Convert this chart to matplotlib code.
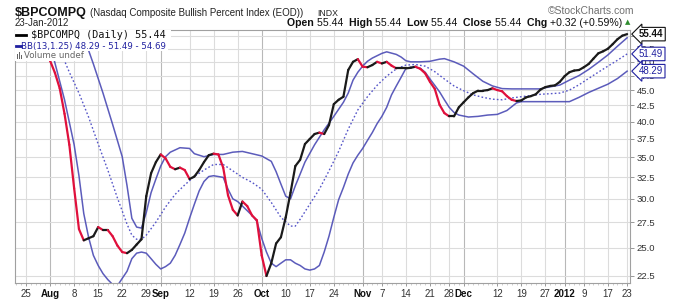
import numpy as np
import pandas as pd
import matplotlib
matplotlib.use("Agg")
import matplotlib.pyplot as plt
from matplotlib.collections import LineCollection
from matplotlib.patches import Rectangle
from matplotlib.lines import Line2D
from matplotlib.ticker import FixedLocator, NullLocator, FixedFormatter
import matplotlib.transforms as mtransforms

# ---------------- data ----------------
holidays = ["2011-09-05", "2011-11-24", "2011-12-26", "2012-01-02", "2012-01-16"]
dates = [d for d in pd.bdate_range("2011-07-21", "2012-01-23")
         if d.strftime("%Y-%m-%d") not in holidays]

price = [57.5, 57.0,
         56.5, 55.5, 54.5, 53.0, 51.5, 50.2, 48.0, 45.3, 41.2, 36.7,
         31.2, 26.8, 25.7, 25.9, 26.1, 27.0, 26.7, 26.7, 26.1, 25.2,
         24.6, 24.5, 24.8, 25.3, 25.8, 30.3, 33.0, 34.4, 35.4, 34.9,
         33.8, 33.5, 33.7, 33.4, 32.3, 32.6, 33.4, 34.4, 35.3, 35.5,
         35.4, 33.7, 30.4, 28.8, 28.2, 29.7, 29.2, 28.2, 27.7, 24.3,
         22.5, 23.6, 25.4, 26.0, 28.0, 30.7, 33.9, 34.7, 36.8, 37.5,
         38.2, 38.4, 38.2, 39.5, 42.7, 43.4, 43.9, 48.5, 50.0, 50.5,
         49.1, 49.0, 49.4, 50.0, 49.7, 50.0, 49.3, 48.8, 48.8, 48.8,
         48.9, 49.1, 48.7, 47.9, 46.4, 45.2, 42.6, 41.3, 40.8, 40.8,
         42.2, 43.0, 43.8, 44.5, 44.9, 44.9, 45.0, 45.3, 45.0, 44.8,
         44.0, 43.4, 43.2, 43.3, 43.8, 44.0, 44.3, 45.1, 45.5, 45.7,
         45.8, 46.4, 47.4, 48.1, 48.4, 48.5, 49.0, 49.6, 50.6, 51.6,
         52.0, 52.5, 53.4, 54.4, 55.12, 55.44]

# Bollinger band readings: session index (position in `dates`) and value
upper_idx = [9, 12, 15, 16, 18, 20, 22, 23, 24, 25, 26, 27, 28, 29, 30, 31, 32,
             34, 36, 37, 39, 41, 43, 45, 47, 49, 51, 53, 54, 55, 56, 57, 58, 59,
             60, 62, 64, 66, 68, 69, 70, 71, 72, 73, 74, 76, 77, 79, 80, 81, 82,
             84, 86, 88, 89, 91, 93, 95, 97, 99, 101, 103, 106, 109, 110, 113,
             115, 117, 119, 121, 123, 125, 127]
upper_val = [73, 61.5, 52.2, 49.6, 44.5, 39.6, 35.1, 31.5, 27.9, 27.0, 26.9, 28.5,
             30.7, 32.3, 33.9, 35.1, 35.7, 36.3, 36.2, 35.5, 35.1, 35.4, 35.4,
             35.7, 35.8, 35.5, 35.2, 34.5, 33.2, 31.7, 30.3, 30.0, 31.5, 32.9,
             34.4, 36.7, 38.8, 40.8, 43.0, 44.5, 46.7, 48.1, 49.2, 50.1, 50.7,
             51.6, 51.9, 51.4, 50.9, 50.2, 50.0, 50.0, 50.1, 50.5, 50.6, 50.0,
             49.2, 47.8, 46.5, 45.7, 45.25, 45.2, 45.2, 45.2, 45.4, 45.85, 46.7,
             47.5, 48.6, 49.9, 51.3, 53.0, 54.69]

mid_idx = [7, 11, 13, 15, 17, 19, 21, 23, 24, 25, 26, 27, 29, 31, 33, 35, 37, 39,
           41, 43, 45, 47, 49, 51, 53, 55, 57, 58, 59, 61, 63, 65, 67, 69, 71, 73,
           75, 77, 79, 81, 83, 85, 87, 89, 91, 93, 95, 97, 99, 101, 103, 105, 107,
           109, 111, 113, 115, 117, 119, 121, 123, 125, 127]
mid_val = [57, 48.1, 44.5, 40.7, 36.8, 33.4, 30.1, 27.3, 26.2, 25.8, 25.8, 26.2,
           27.5, 29.1, 30.5, 31.6, 32.6, 33.4, 34.1, 34.1, 33.3, 32.5, 31.9, 31.1,
           29.6, 28.0, 27.1, 27.1, 27.8, 29.4, 31.1, 33.3, 35.8, 38.9, 41.8, 43.9,
           45.8, 47.4, 48.7, 49.4, 49.5, 49.2, 48.2, 46.9, 45.7, 44.9, 44.2, 43.8,
           43.5, 43.4, 43.7, 43.9, 44.1, 44.3, 44.4, 44.5, 45.0, 45.9, 47.0, 48.1,
           49.2, 50.3, 51.49]

lower_idx = [7, 8, 10, 12, 13, 14, 15, 16, 17, 18, 19, 20, 21, 22, 23, 24, 25, 26,
             27, 28, 29, 30, 31, 32, 33, 34, 35, 36, 37, 38, 39, 40, 41, 43, 44, 45,
             46, 47, 48, 49, 50, 51, 52, 53, 54, 55, 56, 57, 58, 59, 60, 61, 62, 63,
             64, 65, 66, 67, 68, 69, 70, 71, 72, 73, 74, 75, 76, 77, 78, 79, 80, 81,
             82, 83, 84, 85, 86, 87, 88, 89, 90, 91, 92, 94, 96, 98, 100, 102, 104,
             105, 115, 117, 119, 121, 123, 125, 127]
lower_val = [53.4, 49.8, 43.4, 36.7, 32.7, 28.4, 26.0, 24.3, 23.4, 22.7, 22.2, 21.8,
             21.7, 22.3, 22.9, 24.0, 24.5, 24.6, 24.5, 24.0, 23.5, 23.1, 23.3, 23.6,
             24.3, 25.3, 26.4, 27.9, 29.4, 30.9, 32.0, 32.6, 32.7, 32.5, 31.1, 30.0,
             29.7, 29.2, 28.7, 28.2, 27.6, 25.9, 24.6, 23.6, 23.3, 23.6, 23.9, 23.9,
             23.6, 23.4, 23.1, 23.0, 23.1, 23.4, 24.6, 26.1, 28.0, 29.9, 31.3, 32.9,
             34.3, 35.3, 36.2, 37.3, 38.4, 39.7, 40.8, 42.2, 44.2, 45.7, 47.2, 48.8,
             49.0, 49.0, 48.8, 48.1, 46.9, 45.8, 44.7, 43.4, 42.2, 41.4, 41.0, 40.7,
             40.8, 41.0, 41.1, 41.7, 42.9, 43.1, 43.1, 43.8, 44.6, 45.3, 46.0, 46.98,
             48.29]

tick_dates = ["2011-07-25", "2011-08-01", "2011-08-08", "2011-08-15", "2011-08-22",
              "2011-08-29", "2011-09-01", "2011-09-12", "2011-09-19", "2011-09-26",
              "2011-10-03", "2011-10-10", "2011-10-17", "2011-10-24", "2011-11-01",
              "2011-11-07", "2011-11-14", "2011-11-21", "2011-11-28", "2011-12-01",
              "2011-12-12", "2011-12-19", "2011-12-27", "2012-01-03", "2012-01-09",
              "2012-01-17", "2012-01-23"]
tick_labels = ["25", "Aug", "8", "15", "22", "29", "Sep", "12", "19", "26", "Oct",
               "10", "17", "24", "Nov", "7", "14", "21", "28", "Dec", "12", "19",
               "27", "2012", "9", "17", "23"]
month_labels = {"Aug", "Sep", "Oct", "Nov", "Dec", "2012"}
y_ticks = [22.5, 25.0, 27.5, 30.0, 32.5, 35.0, 37.5, 40.0, 42.5, 45.0, 47.5, 50.0,
           52.5, 55.0]

# ---------------- figure ----------------
W, H = 674, 300
fig = plt.figure(figsize=(W / 100, H / 100), dpi=100)
fig.patch.set_facecolor("white")
AX_L, AX_R, AX_T, AX_B = 15, 630, 30, 283
ax = fig.add_axes([AX_L / W, 1 - AX_B / H, (AX_R - AX_L) / W, (AX_B - AX_T) / H])

def fx(x):
    return x / W

def fy(y):
    return 1 - y / H

ax.set_yscale("log")
ax.set_ylim(21.92, 56.3)
ax.set_xlim(-0.3, 127.6)

date_pos = {d.strftime("%Y-%m-%d"): i for i, d in enumerate(dates)}
tick_pos = [date_pos[d] for d in tick_dates]

# grid
for p, lab in zip(tick_pos, tick_labels):
    ax.axvline(p, color="#b8b8b8" if lab in month_labels else "#dcdcdc", lw=0.8, zorder=0)
for yv in y_ticks:
    ax.axhline(yv, color="#dcdcdc", lw=0.8, zorder=0)

# Bollinger bands
band_c = "#4a4ab4"
ax.plot(upper_idx, upper_val, color=band_c, lw=1.1, alpha=0.9, zorder=2)
ax.plot(lower_idx, lower_val, color=band_c, lw=1.1, alpha=0.9, zorder=2)
ax.plot(mid_idx, mid_val, color="#5555c8", lw=1.0, ls=(0, (1.2, 1.6)), zorder=2)

# price line coloured by direction
xs = np.arange(len(price))
pts = np.column_stack([xs, price])
segs = np.stack([pts[:-1], pts[1:]], axis=1)
cols = ["#e0103c" if price[i + 1] < price[i] else "#1a1a1a" for i in range(len(price) - 1)]
lc = LineCollection(segs, colors=cols, linewidths=1.6, zorder=3, capstyle="round", joinstyle="round")
ax.add_collection(lc)

# axes styling
for s in ax.spines.values():
    s.set_color("#a0a0a0")
    s.set_linewidth(0.8)
ax.yaxis.set_major_locator(FixedLocator(y_ticks))
ax.yaxis.set_major_formatter(FixedFormatter([f"{v:.1f}" for v in y_ticks]))
ax.yaxis.set_minor_locator(NullLocator())
ax.yaxis.tick_right()
ax.tick_params(axis="y", which="major", length=3, width=0.6, color="#888888",
               labelsize=6.8, labelcolor="#333333", pad=2)
for t in ax.get_yticklabels():
    t.set_fontfamily("Liberation Sans")

ax.xaxis.set_major_locator(FixedLocator(tick_pos))
ax.xaxis.set_major_formatter(FixedFormatter(tick_labels))
ax.xaxis.set_minor_locator(FixedLocator(xs))
ax.tick_params(axis="x", which="major", length=2, width=0.6, color="#888888",
               labelsize=7, labelcolor="#333333", pad=2)
ax.tick_params(axis="x", which="minor", length=1.5, width=0.5, color="#bbbbbb")
for t in ax.get_xticklabels():
    t.set_fontfamily("Liberation Sans")
    if t.get_text() in month_labels:
        t.set_fontweight("bold")
        t.set_color("#111111")

# ---------------- header texts ----------------
BASE1 = 16
fig.text(fx(15), fy(BASE1), "$BPCOMPQ", fontsize=9, fontweight="bold",
         family="Liberation Sans", va="baseline", ha="left", color="#111111")
fig.text(fx(90), fy(BASE1), "(Nasdaq Composite Bullish Percent Index (EOD))", fontsize=7,
         family="Liberation Sans", va="baseline", ha="left", color="#222222")
fig.text(fx(317), fy(BASE1), "INDX", fontsize=6.3, family="Liberation Sans",
         va="baseline", ha="left", color="#222222")
fig.text(fx(548), fy(13.5), "\u00a9StockCharts.com", fontsize=7.5, family="Liberation Sans",
         va="baseline", ha="left", color="#707070")
fig.text(fx(15), fy(26), "23-Jan-2012", fontsize=7, family="Liberation Sans",
         va="baseline", ha="left", color="#222222")

pieces = [("Open ", True), ("55.44  ", False), ("High ", True), ("55.44  ", False),
          ("Low ", True), ("55.44  ", False), ("Close ", True), ("55.44  ", False),
          ("Chg ", True), ("+0.32 (+0.59%)", False)]
fig.canvas.draw()
renderer = fig.canvas.get_renderer()
xcur = 287
for txt, bold in pieces:
    t = fig.text(fx(xcur), fy(26), txt, fontsize=7.6, family="Liberation Sans",
                 fontweight="bold" if bold else "normal", va="baseline", ha="left",
                 color="#111111")
    bb = t.get_window_extent(renderer=renderer)
    xcur += bb.width
fig.text(fx(xcur + 3), fy(22.5), "\u25b2", fontsize=5, family="DejaVu Sans",
         va="center", ha="left", color="#2e8b2e")

# ---------------- legend ----------------
fig.patches.append(Rectangle((fx(15), fy(40.5)), fx(156), 10.5 / H, transform=fig.transFigure,
                             fc="white", ec="none", zorder=1))
fig.patches.append(Rectangle((fx(15), fy(51)), fx(153), 10.5 / H, transform=fig.transFigure,
                             fc="white", ec="none", zorder=1))
fig.patches.append(Rectangle((fx(15), fy(61)), fx(61), 10 / H, transform=fig.transFigure,
                             fc="white", ec="none", zorder=1))
fig.lines.append(Line2D([fx(16), fx(26)], [fy(35), fy(35)], transform=fig.transFigure,
                        color="black", lw=2, zorder=2))
fig.text(fx(31), fy(35), "$BPCOMPQ (Daily) 55.44", fontsize=7.3, family="DejaVu Sans Mono",
         va="center", ha="left", color="#111111", zorder=3)
fig.lines.append(Line2D([fx(16), fx(21)], [fy(46), fy(46)], transform=fig.transFigure,
                        color="#2020a0", lw=2, zorder=2))
fig.text(fx(21), fy(46), "BB(13,1.25) 48.29 - 51.49 - 54.69", fontsize=6.2,
         family="DejaVu Sans", va="center", ha="left", color="#2020a0", zorder=3)
for bx, bh in [(16.5, 5), (18.5, 7), (20.5, 4)]:
    fig.patches.append(Rectangle((fx(bx), fy(59)), 1.4 / W, bh / H, transform=fig.transFigure,
                                 fc="#666666", ec="none", zorder=2))
fig.text(fx(24), fy(56), "Volume undef", fontsize=6.2, family="DejaVu Sans",
         va="center", ha="left", color="#666666", zorder=3)

# ---------------- right value tags ----------------
trans = mtransforms.blended_transform_factory(fig.transFigure, ax.transData)
for val, ec in [(price[-1], "#111111"), (mid_val[-1], "#2020a0"), (lower_val[-1], "#2020a0")]:
    ax.text(fx(639), val, f"{val:.2f}", transform=trans, fontsize=7,
            family="Liberation Sans", fontweight="bold" if ec == "#111111" else "normal",
            va="center", ha="left", color="#111111" if ec == "#111111" else "#2020a0",
            clip_on=False, zorder=10,
            bbox=dict(boxstyle="larrow,pad=0.18", fc="white", ec=ec, lw=0.8))

fig.savefig("out.png", dpi=100, facecolor="white")
